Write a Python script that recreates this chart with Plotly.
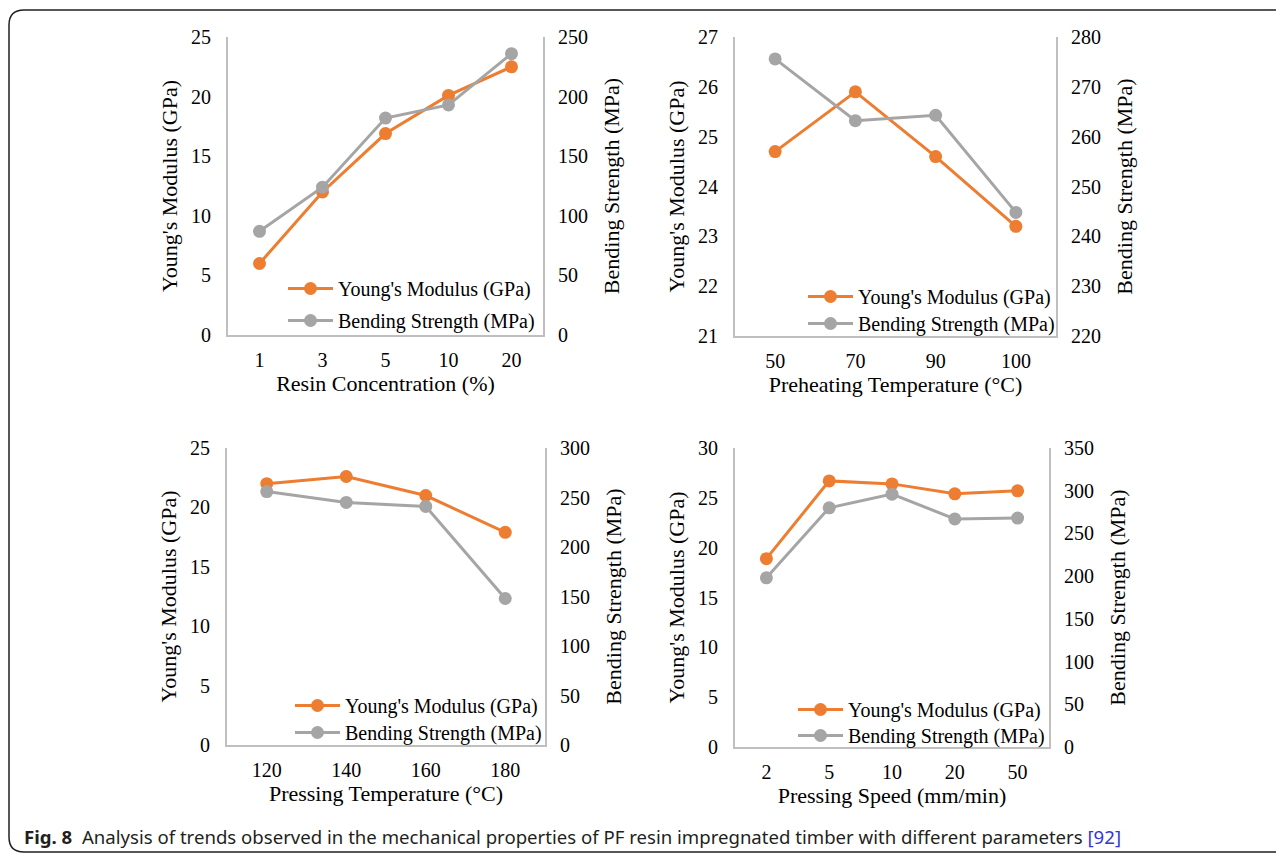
import plotly.graph_objects as go

W, H = 1284, 856
OFF = 8  # page body margin of the html page

# ---------------- data ----------------
resin_conc = ["1", "3", "5", "10", "20"]
resin_ym = [6.0, 12.0, 16.9, 20.1, 22.5]
resin_bs = [87, 124, 182, 193, 236]

preheat_temp = ["50", "70", "90", "100"]
preheat_ym = [24.7, 25.9, 24.6, 23.2]
preheat_bs = [275.6, 263.2, 264.3, 244.8]

press_temp = ["120", "140", "160", "180"]
press_temp_ym = [22.0, 22.6, 21.0, 17.9]
press_temp_bs = [256, 245, 241, 148]

press_speed = ["2", "5", "10", "20", "50"]
press_speed_ym = [18.9, 26.7, 26.4, 25.4, 25.7]
press_speed_bs = [198, 280, 296, 267, 268]

x_titles = ["Resin Concentration (%)", "Preheating Temperature (°C)",
            "Pressing Temperature (°C)", "Pressing Speed (mm/min)"]
ym_name = "Young's Modulus (GPa)"
bs_name = "Bending Strength (MPa)"
ym_ranges = [(0, 25, 5), (21, 27, 1), (0, 25, 5), (0, 30, 5)]
bs_ranges = [(0, 250, 50), (220, 280, 10), (0, 300, 50), (0, 350, 50)]

# ---------------- style ----------------
ORANGE = "#ED7D31"
GRAY = "#A5A5A5"
AXIS = "#BFBFBF"
SERIF = "Liberation Serif, Times New Roman, serif"


def fx(px):
    return (px - OFF) / W


def fy(py):
    return 1 - (py - OFF) / H


# panel plot areas in page pixels: (left, right, top, bottom)
boxes = [(228, 543, 37, 335), (735, 1056, 37, 336),
         (227, 545, 448, 745), (735, 1049, 448, 747)]
# legend: text start x, row centre y (two rows)
legend_pos = [(338, 288, 320), (858, 296, 323), (345, 705, 732), (848, 709, 735)]

panels = [
    (resin_conc, resin_ym, resin_bs),
    (preheat_temp, preheat_ym, preheat_bs),
    (press_temp, press_temp_ym, press_temp_bs),
    (press_speed, press_speed_ym, press_speed_bs),
]

fig = go.Figure()
layout = dict(
    width=W, height=H,
    margin=dict(l=0, r=0, t=0, b=0, pad=0, autoexpand=False),
    paper_bgcolor="white", plot_bgcolor="white",
    font=dict(family=SERIF, size=20, color="black"),
    showlegend=True,
)

leg_idx = 0
for i, (cats, ym, bs) in enumerate(panels):
    n = i + 1
    xa = "x" if n == 1 else f"x{n}"
    ya = "y" if n == 1 else f"y{2*n-1}"
    yb = f"y{2*n}"
    l, r, t, b = boxes[i]
    xdom = [fx(l), fx(r)]
    ydom = [fy(b), fy(t)]
    tx, ty1, ty2 = legend_pos[i]

    for name, vals, col, yax, ty in ((ym_name, ym, ORANGE, ya, ty1),
                                      (bs_name, bs, GRAY, yb, ty2)):
        leg_idx += 1
        lg = "legend" if leg_idx == 1 else f"legend{leg_idx}"
        fig.add_trace(go.Scatter(
            x=cats, y=vals, name=name, mode="lines+markers",
            line=dict(color=col, width=3), marker=dict(color=col, size=13),
            xaxis=xa, yaxis=yax, legend=lg))
        layout[lg] = dict(
            x=fx(tx - 55), xanchor="left", y=fy(ty - 19), yanchor="top",
            bgcolor="rgba(0,0,0,0)", borderwidth=0, itemwidth=45,
            font=dict(family=SERIF, size=20, color="black"))

    xkey = "xaxis" if n == 1 else f"xaxis{n}"
    ykey = "yaxis" if n == 1 else f"yaxis{2*n-1}"
    y2key = f"yaxis{2*n}"
    layout[xkey] = dict(
        domain=xdom, anchor=ya, type="category",
        range=[-0.5, len(cats) - 0.5], showline=True, linecolor=AXIS,
        linewidth=2, showgrid=False, zeroline=False, ticks="",
        ticklabelstandoff=6, fixedrange=True,
        tickfont=dict(family=SERIF, size=20),
        title=dict(text=x_titles[i], font=dict(family=SERIF, size=22),
                   standoff=1))
    lo, hi, dt = ym_ranges[i]
    layout[ykey] = dict(
        domain=ydom, anchor=xa, range=[lo, hi], dtick=dt, tick0=lo,
        showline=True, linecolor=AXIS, linewidth=2, showgrid=False,
        zeroline=False, ticks="", ticklabelstandoff=11,
        tickfont=dict(family=SERIF, size=20),
        title=dict(text=ym_name, font=dict(family=SERIF, size=22),
                   standoff=7))
    lo2, hi2, dt2 = bs_ranges[i]
    layout[y2key] = dict(
        overlaying=ya, side="right", anchor=xa, range=[lo2, hi2],
        dtick=dt2, tick0=lo2, showline=True, linecolor=AXIS, linewidth=2,
        showgrid=False, zeroline=False, ticks="", ticklabelstandoff=9,
        tickfont=dict(family=SERIF, size=20),
        title=dict(text=bs_name, font=dict(family=SERIF, size=22),
                   standoff=17))

# frame with rounded corners (paper coordinates)
x0, x1 = fx(9), 1.02
y0, y1 = fy(852), fy(10)
rx, ry = 15 / W, 15 / H
path = (f"M {x0},{y0+ry} L {x0},{y1-ry} Q {x0},{y1} {x0+rx},{y1} "
        f"L {x1},{y1} L {x1},{y0} L {x0+rx},{y0} Q {x0},{y0} {x0},{y0+ry} Z")
layout["shapes"] = [dict(type="path", xref="paper", yref="paper", path=path,
                         line=dict(color="#231F20", width=1.5),
                         fillcolor="rgba(0,0,0,0)")]

caption = ("<b>Fig. 8</b>\u00a0\u00a0Analysis of trends observed in the mechanical "
           "properties of PF resin impregnated timber with different parameters "
           "<span style='color:#3535D8'>[92]</span>")
layout["annotations"] = [dict(
    text=caption, xref="paper", yref="paper", x=fx(22), y=fy(836),
    xanchor="left", yanchor="middle", showarrow=False,
    font=dict(family="Noto Sans, sans-serif", size=18.6, color="#231F20"))]

fig.update_layout(**layout)
fig.write_html("out.html")
